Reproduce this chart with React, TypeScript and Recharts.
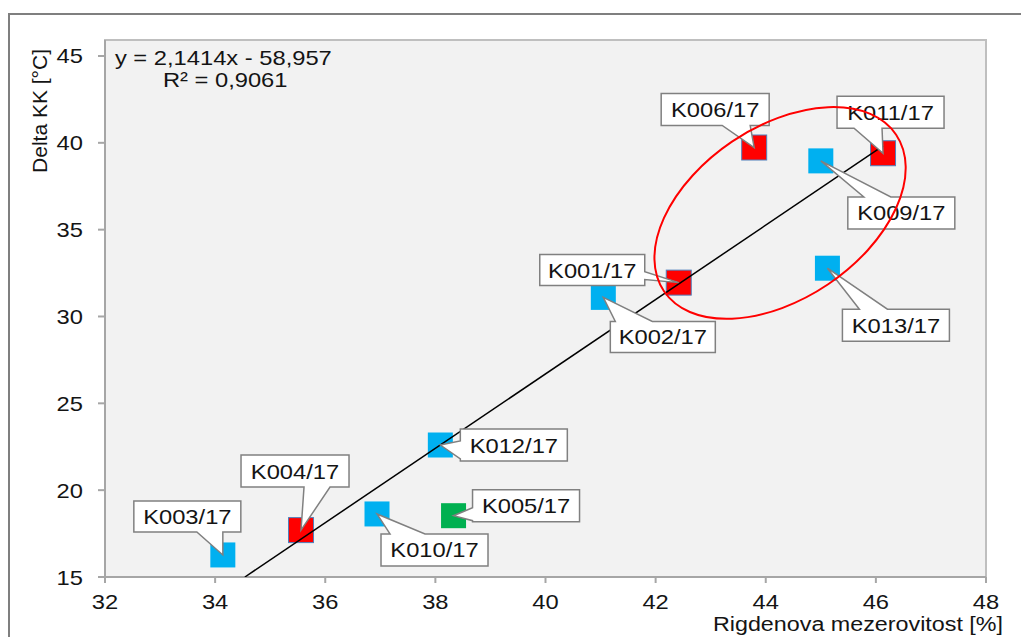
import React from "react";
import { ScatterChart, Scatter, XAxis, YAxis, ReferenceArea } from "recharts";

const sampleNames = ["K001/17", "K002/17", "K003/17", "K004/17", "K005/17", "K006/17", "K009/17", "K010/17", "K011/17", "K012/17", "K013/17"];
const porosity = [42.42, 41.05, 34.14, 35.56, 38.33, 43.79, 45.0, 36.94, 46.13, 38.09, 45.12];
const deltaKK = [31.95, 31.1, 16.27, 17.7, 18.53, 39.73, 38.96, 18.63, 39.4, 22.6, 32.78];
const groups = ["red", "blue", "blue", "red", "green", "red", "blue", "blue", "red", "blue", "blue"];

const xTicks = [32, 34, 36, 38, 40, 42, 44, 46, 48];
const yTicks = [15, 20, 25, 30, 35, 40, 45];

// trendline y = 2,1414x - 58,957 (ends)
const trendX = [34.54, 46.13];
const trendY = [15, 39.82];

// highlighted group (ellipse centre)
const ellipseCenter = { x: 44.26, y: 35.96 };
const equationPos = { x: 32.18, y: 44.48 };

const colors: Record<string, string> = {
  red: "#FF0000",
  blue: "#00B0F0",
  green: "#00B050",
};

const points = sampleNames.map((name, i) => ({
  name,
  x: porosity[i],
  y: deltaKK[i],
  group: groups[i],
}));
const trend = trendX.map((x, i) => ({ x, y: trendY[i] }));

// callout boxes, offsets in px from marker centre
type Callout = { bx: number; by: number; w: number; h: number; side: string; a: number; b: number };
const callouts: Record<string, Callout> = {
  "K001/17": { bx: -139, by: -28, w: 105, h: 31, side: "right", a: 17, b: 25 },
  "K002/17": { bx: 7, by: 24, w: 105, h: 31, side: "top", a: 5, b: 42 },
  "K003/17": { bx: -89, by: -54, w: 107, h: 31, side: "bottom", a: 63, b: 89 },
  "K004/17": { bx: -60, by: -75, w: 108, h: 32, side: "bottom", a: 63, b: 89 },
  "K005/17": { bx: 19, by: -26, w: 107, h: 32, side: "left", a: 18, b: 31 },
  "K006/17": { bx: -93, by: -54, w: 108, h: 32, side: "bottom", a: 61, b: 89 },
  "K009/17": { bx: 27, by: 36, w: 107, h: 32, side: "top", a: 16, b: 43 },
  "K010/17": { bx: 4, by: 20, w: 107, h: 32, side: "top", a: 9, b: 44 },
  "K011/17": { bx: -46, by: -57, w: 107, h: 32, side: "bottom", a: 17, b: 45 },
  "K012/17": { bx: 20, by: -16, w: 107, h: 32, side: "left", a: 12, b: 30 },
  "K013/17": { bx: 15, by: 41, w: 107, h: 32, side: "top", a: 17, b: 45 },
};

const FONT = "'Liberation Sans', Arial, sans-serif";
const INK = "#141414";

// the source picture is a bit stretched sideways, so text is widened to match
const ST = ({ x, y, anchor = "start", size = 21, sx = 1.13, children }: any) => (
  <text
    transform={`translate(${x} ${y}) scale(${sx} 1)`}
    textAnchor={anchor}
    fontFamily={FONT}
    fontSize={size}
    fill={INK}
  >
    {children}
  </text>
);

function calloutPath(cx: number, cy: number, c: Callout) {
  const x = cx + c.bx;
  const y = cy + c.by;
  const { w, h, a, b } = c;
  const tip = `L${cx},${cy}`;
  switch (c.side) {
    case "top":
      return `M${x},${y} L${x + a},${y} ${tip} L${x + b},${y} L${x + w},${y} L${x + w},${y + h} L${x},${y + h} Z`;
    case "right":
      return `M${x},${y} L${x + w},${y} L${x + w},${y + a} ${tip} L${x + w},${y + b} L${x + w},${y + h} L${x},${y + h} Z`;
    case "bottom":
      return `M${x},${y} L${x + w},${y} L${x + w},${y + h} L${x + b},${y + h} ${tip} L${x + a},${y + h} L${x},${y + h} Z`;
    default:
      return `M${x},${y} L${x + w},${y} L${x + w},${y + h} L${x},${y + h} L${x},${y + b} ${tip} L${x},${y + a} Z`;
  }
}

const MarkerShape = (props: any) => {
  const { cx, cy, payload } = props;
  const s = 25;
  return (
    <rect
      x={cx - s / 2}
      y={cy - s / 2}
      width={s}
      height={s}
      fill={colors[payload.group]}
      stroke={payload.group === "red" ? "#4F81BD" : "none"}
      strokeWidth={1}
    />
  );
};

const LabelShape = (props: any) => {
  const { cx, cy, payload } = props;
  const c = callouts[payload.name];
  return (
    <g>
      <path d={calloutPath(cx, cy, c)} fill="#fff" stroke="#808080" strokeWidth={1.5} strokeLinejoin="miter" />
      <ST x={cx + c.bx + c.w / 2} y={cy + c.by + c.h / 2 + 7.5} anchor="middle">
        {payload.name}
      </ST>
    </g>
  );
};

const EllipseShape = (props: any) => {
  const { cx, cy } = props;
  return (
    <ellipse
      cx={cx}
      cy={cy}
      rx={140}
      ry={86}
      transform={`rotate(-34 ${cx} ${cy})`}
      fill="none"
      stroke="#FF0000"
      strokeWidth={2}
    />
  );
};

const EquationShape = (props: any) => {
  const { cx, cy } = props;
  return (
    <g>
      <ST x={cx} y={cy}>y = 2,1414x - 58,957</ST>
      <ST x={cx + 48} y={cy + 22}>R² = 0,9061</ST>
    </g>
  );
};

const XTick = (props: any) => {
  const { x, y, payload } = props;
  return (
    <ST x={x} y={y + 15} anchor="middle">
      {payload.value}
    </ST>
  );
};

const YTick = (props: any) => {
  const { x, y, payload } = props;
  return (
    <ST x={x} y={y + 7.5} anchor="end">
      {payload.value}
    </ST>
  );
};

export default function App() {
  return (
    <div style={{ position: "absolute", left: 0, top: 0, width: 1021, height: 637, background: "#fff" }}>
      <div
        style={{
          position: "absolute",
          left: 8,
          top: 13,
          right: 0,
          bottom: 0,
          borderTop: "2px solid #7f7f7f",
          borderLeft: "2px solid #7f7f7f",
        }}
      />
      <div style={{ position: "absolute", left: 0, top: 0 }}>
        <ScatterChart width={1021} height={637} margin={{ top: 40, right: 35, bottom: 0, left: 0 }}>
          <ReferenceArea
            x1={32}
            x2={48}
            y1={15}
            y2={45.92}
            fill="#F2F2F2"
            fillOpacity={1}
            stroke="#BFBFBF"
            strokeWidth={2}
            ifOverflow="visible"
          />
          <XAxis
            type="number"
            dataKey="x"
            domain={[32, 48]}
            ticks={xTicks}
            height={60}
            tick={XTick}
            tickSize={6}
            tickMargin={11}
            axisLine={{ stroke: "#A6A6A6", strokeWidth: 2 }}
            tickLine={{ stroke: "#A6A6A6", strokeWidth: 2 }}
            label={{
              content: () => (
                <ST x={1003} y={631} anchor="end" sx={1.11}>
                  Rigdenova mezerovitost [%]
                </ST>
              ),
            }}
          />
          <YAxis
            type="number"
            dataKey="y"
            domain={[15, 45.92]}
            ticks={yTicks}
            width={105}
            allowDataOverflow
            tick={YTick}
            tickSize={7}
            tickMargin={15}
            axisLine={{ stroke: "#A6A6A6", strokeWidth: 2 }}
            tickLine={{ stroke: "#A6A6A6", strokeWidth: 2 }}
            label={{
              content: () => (
                <text
                  x={47}
                  y={111}
                  transform="rotate(-90 47 111)"
                  textAnchor="middle"
                  fontFamily={FONT}
                  fontSize={21}
                  fill={INK}
                >
                  Delta KK [°C]
                </text>
              ),
            }}
          />
          <Scatter data={points} shape={MarkerShape} isAnimationActive={false} />
          <Scatter
            data={trend}
            line={{ stroke: "#000", strokeWidth: 1.5 }}
            shape={() => <g />}
            isAnimationActive={false}
          />
          <Scatter data={points} shape={LabelShape} isAnimationActive={false} />
          <Scatter data={[ellipseCenter]} shape={EllipseShape} isAnimationActive={false} />
          <Scatter data={[equationPos]} shape={EquationShape} isAnimationActive={false} />
        </ScatterChart>
      </div>
    </div>
  );
}
